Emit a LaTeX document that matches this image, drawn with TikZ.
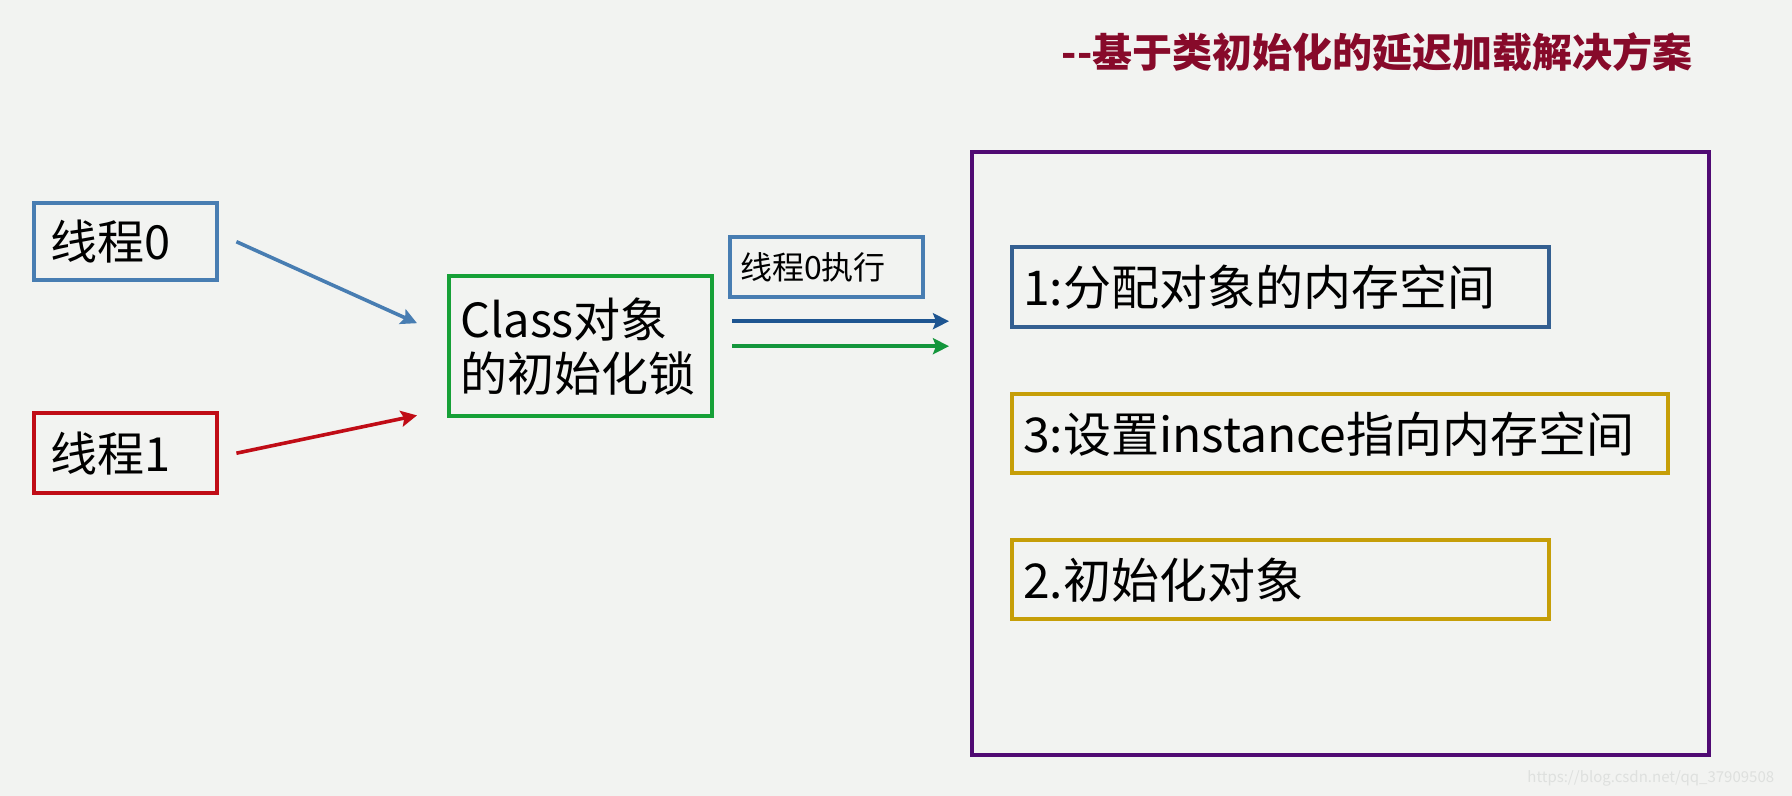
\documentclass[tikz,border=0pt]{standalone}
\usepackage{fontspec}
\setmainfont{Noto Sans CJK SC}
\usetikzlibrary{calc,arrows.meta}

\definecolor{bgcol}{RGB}{242,243,241}
\definecolor{t0blue}{RGB}{72,125,178}
\definecolor{t1red}{RGB}{192,12,22}
\definecolor{lockgreen}{RGB}{22,160,55}
\definecolor{runblue}{RGB}{30,85,145}
\definecolor{rungreen}{RGB}{20,150,60}
\definecolor{stagepurple}{RGB}{80,10,115}
\definecolor{stepblue}{RGB}{52,95,145}
\definecolor{stepgold}{RGB}{198,158,8}
\definecolor{titlered}{RGB}{135,10,42}
\definecolor{wmgray}{RGB}{222,224,222}

\begin{document}
\begin{tikzpicture}[x=0.5pt,y=-0.5pt,>={Stealth[length=8pt,width=8pt,inset=1.5pt]}, line width=2.2pt]
        \tikzstyle{box} = [draw, rectangle, anchor=north west, align=left, inner ysep=0pt, font=\fontsize{23.5}{27}\selectfont]
        \tikzstyle{link} = [->, line width=1.8pt]

        % 背景
        \fill[bgcol] (0,0) rectangle (1792,796);
        \useasboundingbox (0,0) rectangle (1792,796);

        % 标题
        \node[font=\bfseries\fontsize{20}{24}\selectfont, text=titlered] (title) at (1377,52) {{-}{-}基于类初始化的延迟加载解决方案};

        % 两个线程
        \node[box, draw=t0blue, text width=75.5pt, inner xsep=8pt, minimum height=38.5pt] (t0) at (32,201) {线程0};
        \node[box, draw=t1red, text width=75.5pt, inner xsep=8pt, minimum height=40pt] (t1) at (32,411) {线程1};

        % 初始化锁
        \node[box, draw=lockgreen, text width=120.5pt, inner xsep=5.5pt, minimum height=70pt] (lock) at (447,274) {Class对象\\的初始化锁};
        \node[box, draw=t0blue, text width=86.5pt, inner xsep=5pt, minimum height=30pt, font=\fontsize{16}{19}\selectfont] (exec) at (728,235) {线程0执行};

        % 右侧执行区
        \node[draw=stagepurple, anchor=north west, minimum width=368.5pt, minimum height=301.5pt, inner sep=0pt] (stage) at (970,150) {};
        \node[box, draw=stepblue, text width=257.5pt, inner xsep=5.5pt, minimum height=40pt, font=\fontsize{24}{28}\selectfont] (s1) at (1010,245) {1:分配对象的内存空间};
        \node[box, draw=stepgold, text width=317pt, inner xsep=5.5pt, minimum height=39.5pt, font=\fontsize{24}{28}\selectfont] (s3) at (1010,392) {3:设置instance指向内存空间};
        \node[box, draw=stepgold, text width=257.5pt, inner xsep=5.5pt, minimum height=39.5pt, font=\fontsize{24}{28}\selectfont] (s2) at (1010,538) {2.初始化对象};

        % 箭头
        \draw[link, t0blue] ([xshift=8.5pt]t0.east) -- ($(lock.west)+(-15pt,11.5pt)$);
        \draw[link, t1red] ([xshift=8.5pt]t1.east) -- ($(lock.south west)+(-15pt,1.5pt)$);
        \draw[link, runblue] ($(lock.east)+(9pt,12.5pt)$) -- ($(stage.west |- lock.east)+(-10.5pt,12.5pt)$);
        \draw[link, rungreen] ($(lock.east)+(9pt,0pt)$) -- ($(stage.west |- lock.east)+(-10.5pt,0pt)$);

        % 水印
        \node[font=\fontsize{7.5}{9}\selectfont, text=wmgray, anchor=east] (wm) at (1783,778) {https://blog.csdn.net/qq\_37909508};
\end{tikzpicture}
\end{document}
